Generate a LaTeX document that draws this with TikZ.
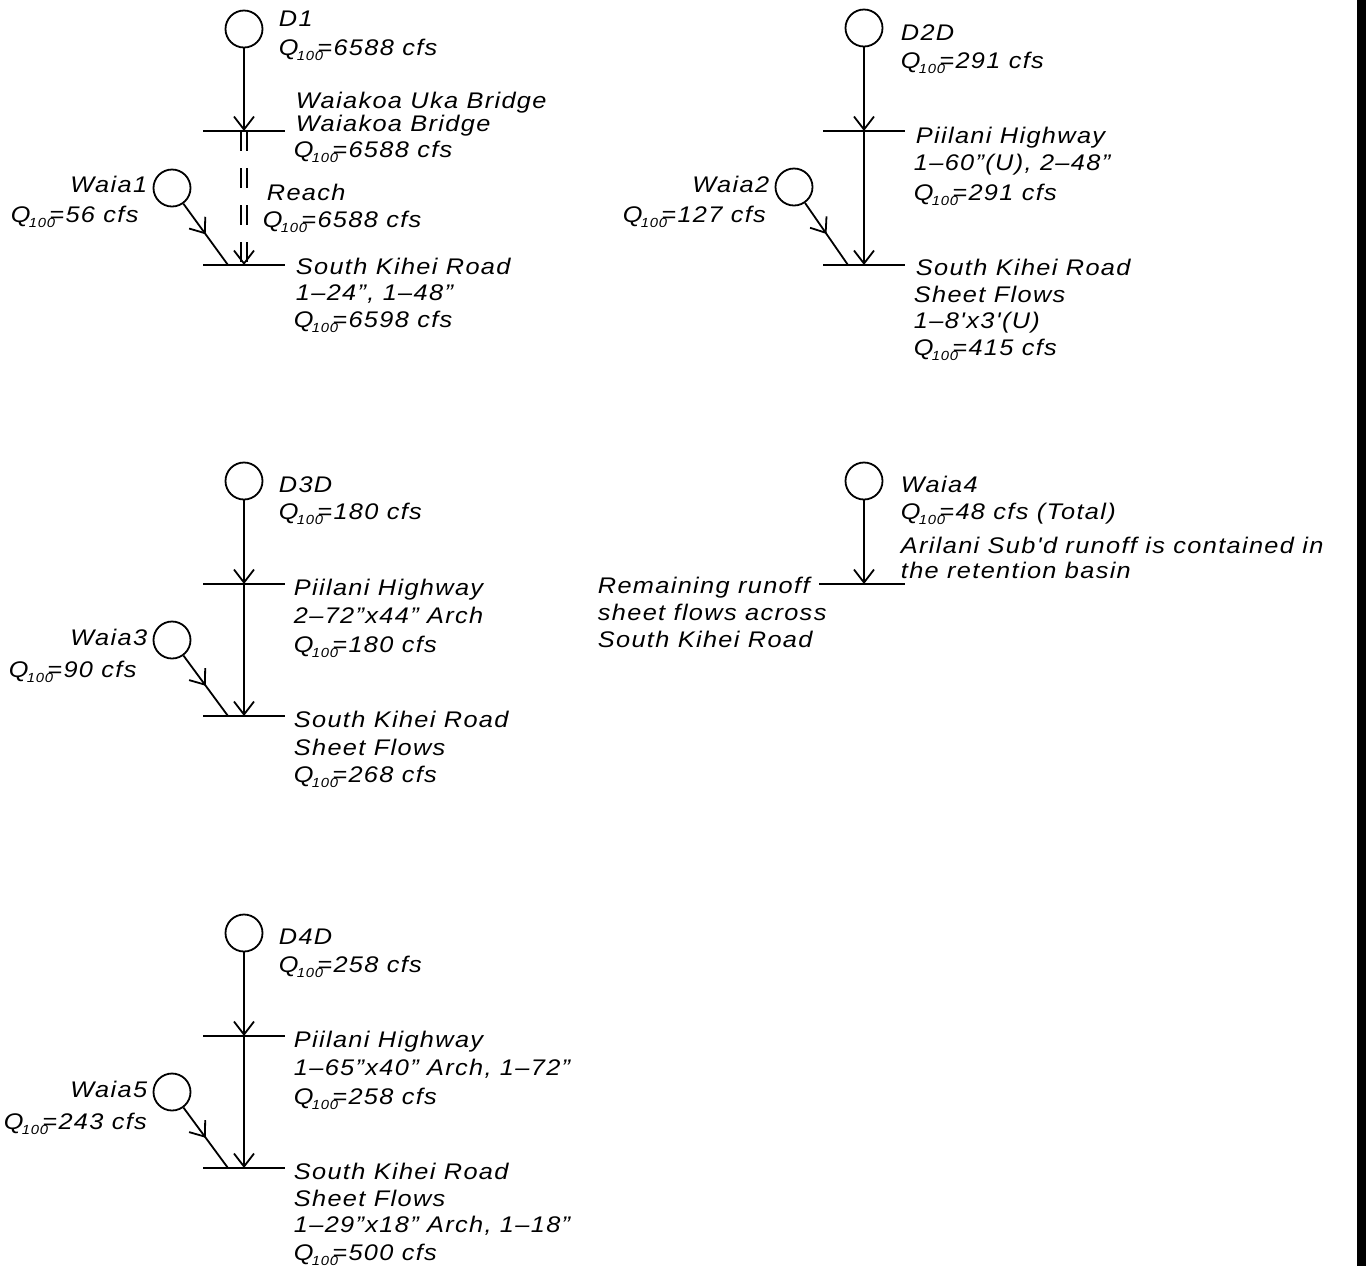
\documentclass[tikz,border=0pt]{standalone}
\usepackage{fontspec}
\newfontfamily\cadfont{Liberation Sans}[FakeStretch=1.12,LetterSpace=6]
\usetikzlibrary{arrows.meta,decorations.markings,calc}
\newcommand\Qc{Q\kern-0.08em\raisebox{-2.8pt}{\fontsize{6.6}{6.6}\selectfont 100}\kern-0.25em=}
\begin{document}
\begin{tikzpicture}[x=0.5pt,y=-0.5pt,line width=0.9pt,
  basin/.style={circle,draw,minimum size=18.5pt,inner sep=0pt},
  lbl/.style={anchor=base west,inner sep=0pt,font=\cadfont\itshape\fontsize{11.3}{12}\selectfont},
  lblr/.style={lbl,anchor=base east},
  flow/.style={-{Straight Barb[length=6.5pt,width=10pt]}},
  midflow/.style={postaction={decorate},decoration={markings,mark=at position 0.5 with {\arrow{Straight Barb[length=6.5pt,width=10pt]}}}},
  dbl/.style={double,double distance=2pt,line width=0.8pt,dash pattern=on 10pt off 8.5pt}]
\useasboundingbox (0,0) rectangle (1366,1266);
\fill (1357,0) rectangle (1366,1266);

% ---------------- Group 1 : D1
\node[basin] (d1) at (244,29) {};
\node[basin] (w1) at (172,188) {};
\coordinate (j1a) at (244,131);
\coordinate (j1b) at (244,265);
\coordinate (k1) at (228,265);
\draw[dbl] (j1a) -- (j1b);
\draw[flow] ($(j1b)+(0,-2)$) -- (j1b);
\draw[flow] (d1) -- (j1a);
\draw ($(j1a)+(-41,0)$) -- ($(j1a)+(41,0)$);
\draw ($(j1b)+(-41,0)$) -- ($(j1b)+(41,0)$);
\draw[midflow] (w1) -- (k1);
\node[lbl] (t1a) at (278,26) {D1};
\node[lbl] (t1b) at (278,55) {\Qc6588 cfs};
\node[lbl] (t1c) at (295,108) {Waiakoa Uka Bridge};
\node[lbl] (t1d) at (295,131) {Waiakoa Bridge};
\node[lbl] (t1e) at (293,157) {\Qc6588 cfs};
\node[lbl] (t1f) at (266,200) {Reach};
\node[lbl] (t1g) at (262,227) {\Qc6588 cfs};
\node[lbl] (t1h) at (295,274) {South Kihei Road};
\node[lbl] (t1i) at (295,300) {1–24”, 1–48”};
\node[lbl] (t1j) at (293,327) {\Qc6598 cfs};
\node[lblr] (t1k) at (148,192) {Waia1};
\node[lbl] (t1l) at (10,222) {\Qc56 cfs};

% ---------------- Group 2 : D2D
\node[basin] (d2) at (864,28) {};
\node[basin] (w2) at (794,187) {};
\coordinate (j2a) at (864,131);
\coordinate (j2b) at (864,265);
\coordinate (k2) at (848,265);
\draw[flow] (d2) -- (j2a);
\draw[flow] (j2a) -- (j2b);
\draw ($(j2a)+(-41,0)$) -- ($(j2a)+(41,0)$);
\draw ($(j2b)+(-41,0)$) -- ($(j2b)+(41,0)$);
\draw[midflow] (w2) -- (k2);
\node[lbl] (t2a) at (900,40) {D2D};
\node[lbl] (t2b) at (900,68) {\Qc291 cfs};
\node[lbl] (t2c) at (915,143) {Piilani Highway};
\node[lbl] (t2d) at (913,170) {1–60”(U), 2–48”};
\node[lbl] (t2e) at (913,200) {\Qc291 cfs};
\node[lbl] (t2f) at (915,275) {South Kihei Road};
\node[lbl] (t2g) at (913,302) {Sheet Flows};
\node[lbl] (t2h) at (913,328) {1–8'x3'(U)};
\node[lbl] (t2i) at (913,355) {\Qc415 cfs};
\node[lblr] (t2k) at (770,192) {Waia2};
\node[lbl] (t2l) at (622,222) {\Qc127 cfs};

% ---------------- Group 3 : D3D
\node[basin] (d3) at (244,481) {};
\node[basin] (w3) at (172,640) {};
\coordinate (j3a) at (244,584);
\coordinate (j3b) at (244,716);
\coordinate (k3) at (228,716);
\draw[flow] (d3) -- (j3a);
\draw[flow] (j3a) -- (j3b);
\draw ($(j3a)+(-41,0)$) -- ($(j3a)+(41,0)$);
\draw ($(j3b)+(-41,0)$) -- ($(j3b)+(41,0)$);
\draw[midflow] (w3) -- (k3);
\node[lbl] (t3a) at (278,492) {D3D};
\node[lbl] (t3b) at (278,519) {\Qc180 cfs};
\node[lbl] (t3c) at (293,595) {Piilani Highway};
\node[lbl] (t3d) at (293,623) {2–72”x44” Arch};
\node[lbl] (t3e) at (293,652) {\Qc180 cfs};
\node[lbl] (t3f) at (293,727) {South Kihei Road};
\node[lbl] (t3g) at (293,755) {Sheet Flows};
\node[lbl] (t3h) at (293,782) {\Qc268 cfs};
\node[lblr] (t3k) at (148,645) {Waia3};
\node[lbl] (t3l) at (8,677) {\Qc90 cfs};

% ---------------- Group 4 : Waia4
\node[basin] (d4) at (864,481) {};
\coordinate (j4a) at (864,584);
\draw[flow] (d4) -- (j4a);
\draw ($(j4a)+(-45,0)$) -- ($(j4a)+(41,0)$);
\node[lbl] (t4a) at (900,492) {Waia4};
\node[lbl] (t4b) at (900,519) {\Qc48 cfs (Total)};
\node[lbl] (t4c) at (900,553) {Arilani Sub'd runoff is contained in};
\node[lbl] (t4d) at (900,578) {the retention basin};
\node[lbl] (t4e) at (597,593) {Remaining runoff};
\node[lbl] (t4f) at (597,620) {sheet flows across};
\node[lbl] (t4g) at (597,647) {South Kihei Road};

% ---------------- Group 5 : D4D
\node[basin] (d5) at (244,933) {};
\node[basin] (w5) at (172,1092) {};
\coordinate (j5a) at (244,1036);
\coordinate (j5b) at (244,1168);
\coordinate (k5) at (228,1168);
\draw[flow] (d5) -- (j5a);
\draw[flow] (j5a) -- (j5b);
\draw ($(j5a)+(-41,0)$) -- ($(j5a)+(41,0)$);
\draw ($(j5b)+(-41,0)$) -- ($(j5b)+(41,0)$);
\draw[midflow] (w5) -- (k5);
\node[lbl] (t5a) at (278,944) {D4D};
\node[lbl] (t5b) at (278,972) {\Qc258 cfs};
\node[lbl] (t5c) at (293,1047) {Piilani Highway};
\node[lbl] (t5d) at (293,1075) {1–65”x40” Arch, 1–72”};
\node[lbl] (t5e) at (293,1104) {\Qc258 cfs};
\node[lbl] (t5f) at (293,1179) {South Kihei Road};
\node[lbl] (t5g) at (293,1206) {Sheet Flows};
\node[lbl] (t5h) at (293,1232) {1–29”x18” Arch, 1–18”};
\node[lbl] (t5i) at (293,1260) {\Qc500 cfs};
\node[lblr] (t5k) at (148,1097) {Waia5};
\node[lbl] (t5l) at (3,1129) {\Qc243 cfs};
\end{tikzpicture}
\end{document}
